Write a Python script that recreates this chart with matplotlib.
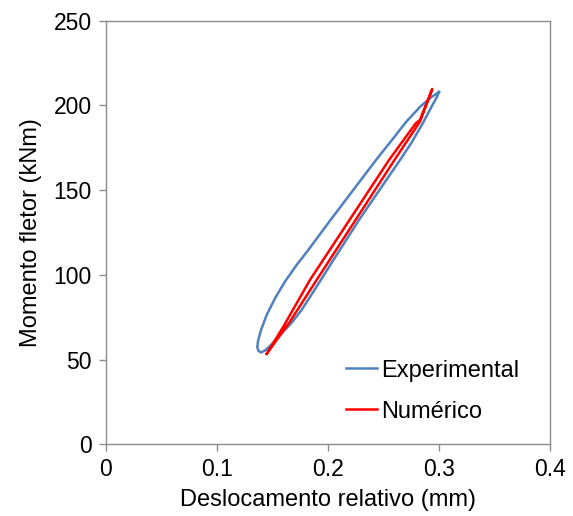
import matplotlib
matplotlib.use("Agg")
import matplotlib.pyplot as plt

plt.rcParams['font.family'] = ['Liberation Sans', 'DejaVu Sans']

# Experimental hysteresis loop (relative displacement in mm, bending moment in kNm)
exp_disp = [0.2997, 0.2925, 0.2826, 0.2701, 0.2566, 0.2431, 0.2022, 0.1822,
            0.1718, 0.1612, 0.1523, 0.1448, 0.1397, 0.1370, 0.1363, 0.1374,
            0.1397, 0.1433, 0.1478, 0.1540, 0.1603, 0.1675, 0.1765, 0.1878,
            0.2017, 0.2278, 0.2647, 0.2754, 0.2853, 0.2934, 0.2979, 0.2997]
exp_moment = [207.9, 204.7, 199.1, 190.2, 178.9, 167.8, 132.4, 114.7,
              105.9, 96.0, 86.2, 76.4, 67.5, 61.0, 57.4, 55.1,
              54.2, 55.4, 58.0, 62.4, 66.9, 71.9, 79.6, 91.1,
              105.6, 132.4, 167.8, 178.4, 189.6, 199.7, 205.0, 207.9]

# Numerical loop
num_disp = [0.1448, 0.1657, 0.1897, 0.2597, 0.2826, 0.2937, 0.2826, 0.2790,
            0.2548, 0.1837, 0.1597, 0.1448]
num_moment = [53.4, 72.4, 97.0, 167.8, 190.4, 209.7, 191.4, 189.6,
              167.8, 97.0, 69.4, 53.4]

x_ticks = [0, 0.1, 0.2, 0.3, 0.4]
x_tick_labels = ["0", "0.1", "0.2", "0.3", "0.4"]
y_ticks = [0, 50, 100, 150, 200, 250]

fig = plt.figure(figsize=(5.73, 5.16), dpi=100)
ax = fig.add_axes([0.1845, 0.139, 0.7762, 0.8209])

ax.plot(exp_disp, exp_moment, color='#4F81BD', lw=1.8, label='Experimental',
        solid_joinstyle='round')
ax.plot(num_disp, num_moment, color='#FF0000', lw=1.8, label='Numérico',
        solid_joinstyle='round')

ax.set_xlim(0, 0.4)
ax.set_ylim(0, 250)
ax.set_xticks(x_ticks)
ax.set_xticklabels(x_tick_labels)
ax.set_yticks(y_ticks)

grey = '#8c8c8c'
for s in ax.spines.values():
    s.set_color(grey)
    s.set_linewidth(1.0)
ax.tick_params(direction='out', length=5, width=1.0, color=grey,
               labelsize=16.5, labelcolor='black', pad=5)

ax.set_xlabel('Deslocamento relativo (mm)', fontsize=17, labelpad=6)
ax.set_ylabel('Momento fletor (kNm)', fontsize=17, labelpad=8)

leg = ax.legend(loc='upper left', bbox_to_anchor=(0.52, 0.222), frameon=False,
                fontsize=17, handlelength=1.3, handletextpad=0.15,
                labelspacing=0.8, borderaxespad=0)

fig.savefig('out.png', dpi=100)
